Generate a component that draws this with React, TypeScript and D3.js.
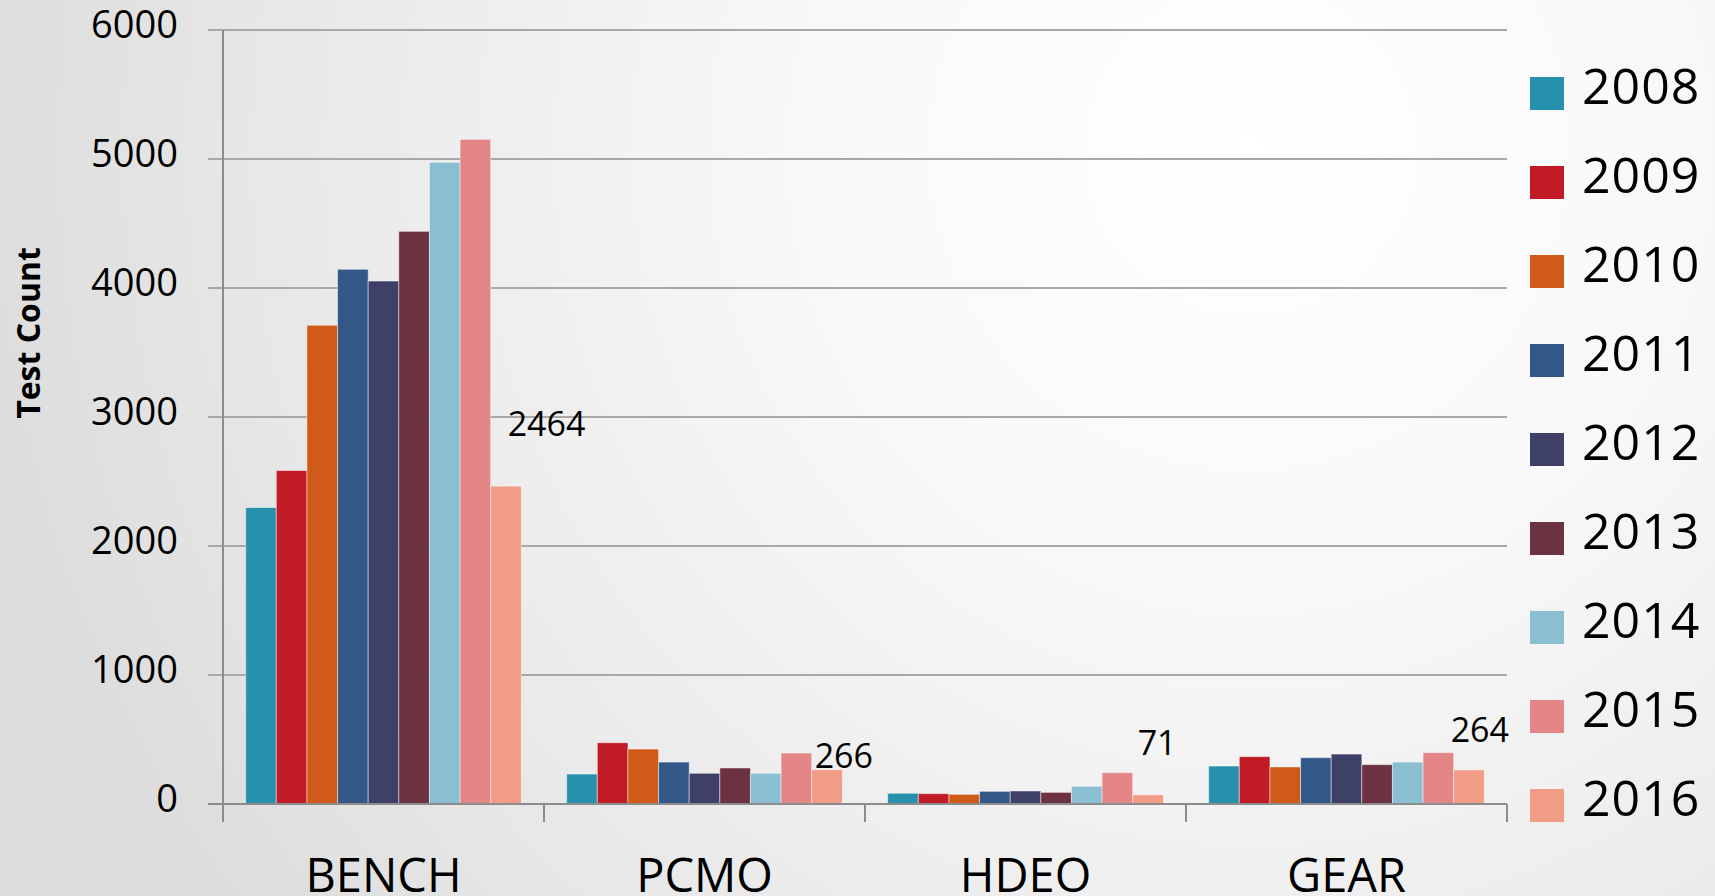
import React, { useLayoutEffect } from "react";
import * as d3 from "d3";

const categories = ["BENCH", "PCMO", "HDEO", "GEAR"];
const years = ["2008", "2009", "2010", "2011", "2012", "2013", "2014", "2015", "2016"];
const colors = ["#2690AD", "#C11B25", "#D05A18", "#335888", "#3F4068", "#6C323F", "#8ABED1", "#E48688", "#F09C86"];

const v2008 = [2298, 232, 83, 294];
const v2009 = [2585, 475, 80, 367];
const v2010 = [3711, 426, 75, 287];
const v2011 = [4145, 325, 98, 359];
const v2012 = [4054, 238, 101, 387];
const v2013 = [4439, 279, 90, 305];
const v2014 = [4974, 238, 137, 325];
const v2015 = [5152, 395, 243, 398];
const v2016 = [2464, 266, 71, 264];
const seriesValues = [v2008, v2009, v2010, v2011, v2012, v2013, v2014, v2015, v2016];

const yTicks = [0, 1000, 2000, 3000, 4000, 5000, 6000];
// label placement relative to the 2016 bar: [dx from bar left, rise above bar top]
const labelOffsets = [[17, 50], [3, 2], [5, 40], [-3, 28]];

const W = 1715;
const H = 896;
const FONT = "'Open Sans', 'Noto Sans', sans-serif";

export default function App() {
  useLayoutEffect(() => {
    document.body.style.margin = "0";
  }, []);

  const plotL = 223, plotR = 1507, plotT = 30, plotB = 804;
  const x0 = d3.scaleBand<string>().domain(categories).range([plotL, plotR]).padding(0);
  const bw = x0.bandwidth();
  const x1 = d3.scaleBand<string>().domain(years).range([bw * 0.0707, bw * 0.9293]).padding(0);
  const y = d3.scaleLinear().domain([0, 6000]).range([plotB, plotT]);

  const boundaries = categories.map((c) => x0(c)!).concat([plotR]);

  return (
    <svg width={W} height={H} style={{ display: "block" }} fontFamily={FONT}>
      <defs>
        <radialGradient id="bg" cx="1250" cy="150" r="1300" gradientUnits="userSpaceOnUse">
          <stop offset="0" stopColor="#ffffff" />
          <stop offset="0.35" stopColor="#f8f8f8" />
          <stop offset="0.75" stopColor="#e8e8e8" />
          <stop offset="1" stopColor="#dcdcdc" />
        </radialGradient>
      </defs>
      <rect x={0} y={0} width={W} height={H} fill="url(#bg)" />

      {/* gridlines */}
      {yTicks.map((t) => (
        <line key={"g" + t} x1={208} x2={plotR} y1={y(t)} y2={y(t)} stroke="#a8a8a8" strokeWidth={2} />
      ))}
      {/* y tick labels */}
      {yTicks.map((t) => (
        <text key={"yl" + t} x={178} y={y(t) + 8} fontSize={38} textAnchor="end" fill="#000">
          {t}
        </text>
      ))}

      {/* bars */}
      {categories.map((c, ci) => (
        <g key={c} transform={`translate(${x0(c)},0)`}>
          {years.map((yr, si) => {
            const v = seriesValues[si][ci];
            return (
              <rect
                key={yr}
                x={x1(yr)}
                y={y(v)}
                width={x1.bandwidth()}
                height={y(0) - y(v)}
                fill={colors[si]}
                stroke="rgba(255,255,255,0.45)"
                strokeWidth={1}
              />
            );
          })}
        </g>
      ))}

      {/* axes */}
      <line x1={plotL} x2={plotL} y1={plotT} y2={plotB} stroke="#8c8c8c" strokeWidth={2} />
      <line x1={208} x2={plotR} y1={plotB} y2={plotB} stroke="#8c8c8c" strokeWidth={2} />
      {boundaries.map((bx, i) => (
        <line key={"xt" + i} x1={bx} x2={bx} y1={plotB} y2={822} stroke="#8c8c8c" strokeWidth={2} />
      ))}

      {/* data labels for 2016 */}
      {categories.map((c, ci) => {
        const v = v2016[ci];
        const [dx, rise] = labelOffsets[ci];
        return (
          <text key={"dl" + c} x={x0(c)! + x1("2016")! + dx} y={y(v) - rise} fontSize={34} fill="#000">
            {v}
          </text>
        );
      })}

      {/* category labels */}
      {categories.map((c) => (
        <text key={"cl" + c} x={x0(c)! + bw / 2} y={892} fontSize={47} textAnchor="middle" fill="#000">
          {c}
        </text>
      ))}

      {/* y axis title */}
      <text transform="translate(40,333) rotate(-90)" fontSize={32} fontWeight="bold" textAnchor="middle" fill="#000">
        Test Count
      </text>

      {/* legend */}
      {years.map((yr, i) => (
        <g key={"lg" + yr} transform={`translate(1530,${77 + i * 89})`}>
          <rect x={0} y={0} width={34} height={33} fill={colors[i]} />
          <text x={52} y={27} fontSize={50} letterSpacing={1} fill="#000">
            {yr}
          </text>
        </g>
      ))}
    </svg>
  );
}
